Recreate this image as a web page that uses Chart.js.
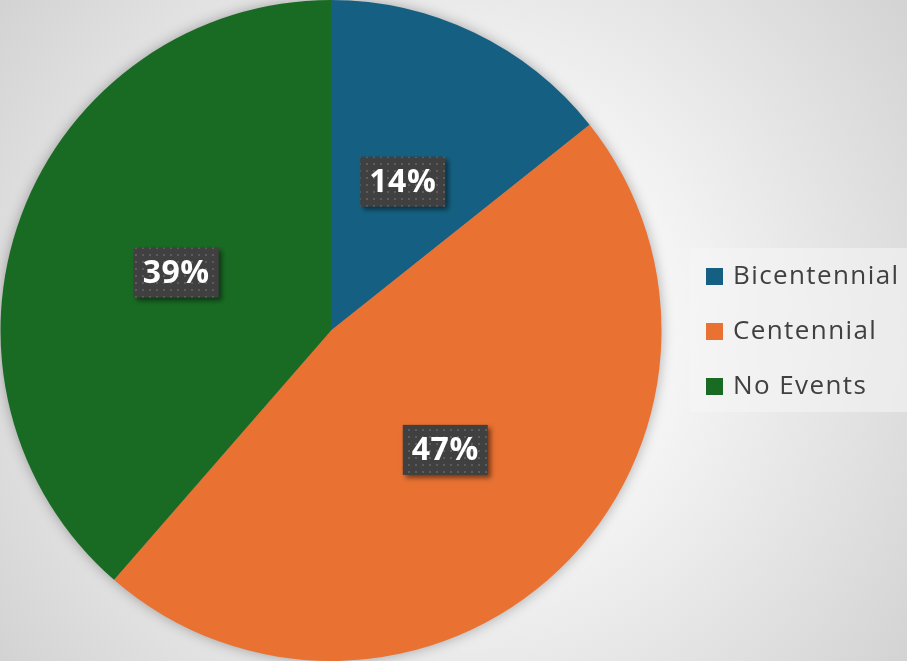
<!DOCTYPE html>
<html>
<head>
<meta charset="utf-8">
<script src="https://cdn.jsdelivr.net/npm/chart.js@4"></script>
<style>
  html, body { margin: 0; padding: 0; background: #fff; }
  #wrap { width: 907px; height: 661px; position: relative; }
</style>
</head>
<body>
<div id="wrap"><canvas id="pieChart"></canvas></div>
<script>
var categories = ['Bicentennial', 'Centennial', 'No Events'];
var shares = [14.3, 47.1, 38.6];
var sliceColors = ['#156082', '#E97132', '#196B24'];

// --- dotted label fill ---
function makeDotPattern(ctx) {
    const c = document.createElement('canvas');
    c.width = 7; c.height = 7;
    const p = c.getContext('2d');
    p.fillStyle = '#404040';
    p.fillRect(0, 0, 7, 7);
    p.fillStyle = '#5c5c5c';
    p.fillRect(2, 2, 2, 2);
    return ctx.createPattern(c, 'repeat');
}

const backgroundPlugin = {
    id: 'bg',
    beforeDraw(chart) {
        const ctx = chart.ctx;
        const w = chart.width, h = chart.height;
        ctx.save();
        const g = ctx.createRadialGradient(455, 330, 0, 455, 330, 570);
        g.addColorStop(0, '#ffffff');
        g.addColorStop(0.35, '#f7f7f7');
        g.addColorStop(1, '#d2d2d2');
        ctx.fillStyle = g;
        ctx.fillRect(0, 0, w, h);
        ctx.restore();
    },
    beforeDatasetsDraw(chart) {
        // soft shadow under the pie
        const arc = chart.getDatasetMeta(0).data[0];
        if (!arc) return;
        const ctx = chart.ctx;
        ctx.save();
        ctx.shadowColor = 'rgba(0,0,0,0.35)';
        ctx.shadowBlur = 14;
        ctx.fillStyle = '#888';
        ctx.beginPath();
        ctx.arc(arc.x, arc.y, arc.outerRadius - 1, 0, Math.PI * 2);
        ctx.fill();
        ctx.restore();
    }
};

const labelPlugin = {
    id: 'pctLabels',
    afterDatasetsDraw(chart) {
        const ctx = chart.ctx;
        const meta = chart.getDatasetMeta(0);
        const pattern = makeDotPattern(ctx);
        const bw = 85, bh = 50;
        meta.data.forEach((arc, i) => {
            const pos = arc.tooltipPosition();
            const txt = Math.round(shares[i]) + '%';
            ctx.save();
            ctx.shadowColor = 'rgba(0,0,0,0.5)';
            ctx.shadowBlur = 5;
            ctx.shadowOffsetX = 3;
            ctx.shadowOffsetY = 3;
            ctx.fillStyle = pattern;
            ctx.fillRect(pos.x - bw / 2, pos.y - bh / 2, bw, bh);
            ctx.restore();
            ctx.save();
            ctx.fillStyle = '#ffffff';
            ctx.font = 'bold 32px "Open Sans", sans-serif';
            ctx.textAlign = 'center';
            ctx.textBaseline = 'middle';
            ctx.letterSpacing = '0.5px';
            ctx.fillText(txt, pos.x, pos.y + 1);
            ctx.restore();
        });
    }
};

const legendPlugin = {
    id: 'sideLegend',
    afterDraw(chart) {
        const ctx = chart.ctx;
        ctx.save();
        ctx.fillStyle = 'rgba(245,245,245,0.55)';
        ctx.fillRect(690, 248, 217, 164);
        const rowY = [276, 331, 386];
        categories.forEach((name, i) => {
            ctx.fillStyle = sliceColors[i];
            ctx.fillRect(706, rowY[i] - 8, 17, 17);
            ctx.fillStyle = '#404040';
            ctx.font = '26px "Open Sans", sans-serif';
            ctx.textBaseline = 'middle';
            ctx.textAlign = 'left';
            ctx.letterSpacing = '1.4px';
            ctx.fillText(name, 733, rowY[i] + 1);
        });
        ctx.restore();
    }
};

new Chart(document.getElementById('pieChart'), {
    type: 'pie',
    data: {
        labels: categories,
        datasets: [{
            data: shares,
            backgroundColor: sliceColors,
            borderWidth: 0
        }]
    },
    options: {
        responsive: true, maintainAspectRatio: false,
        animation: false,
        layout: { padding: { left: 0, top: 0, bottom: 0, right: 245 } },
        plugins: { legend: { display: false }, tooltip: { enabled: false } }
    },
    plugins: [backgroundPlugin, labelPlugin, legendPlugin]
});
</script>
</body>
</html>
